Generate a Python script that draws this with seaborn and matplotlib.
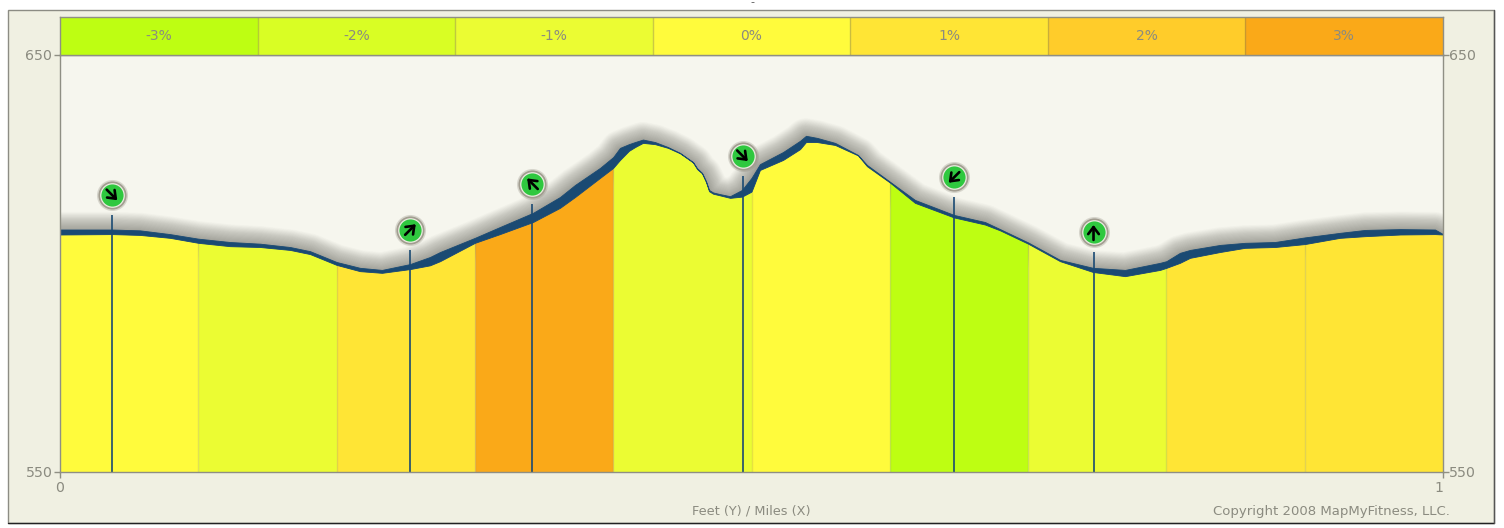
import numpy as np
import matplotlib
matplotlib.use('Agg')
import matplotlib.pyplot as plt
import seaborn as sns
from matplotlib.colors import ListedColormap
from matplotlib.patches import Rectangle
from matplotlib.transforms import offset_copy, ScaledTranslation

# DATA

miles = [0.0, 0.0376, 0.0578, 0.0795, 0.1, 0.1229, 0.1446, 0.1663, 0.1808, 0.2,
         0.2169, 0.2328, 0.2531, 0.2675, 0.2748, 0.3, 0.3181, 0.342, 0.3615, 0.3724,
         0.3905, 0.4, 0.4049, 0.4114, 0.4158, 0.4215, 0.4302, 0.4396, 0.4483, 0.4577,
         0.4607, 0.4642, 0.4671, 0.4693, 0.4722, 0.4772, 0.4845, 0.4931, 0.5, 0.5061,
         0.5228, 0.5351, 0.5394, 0.5474, 0.5604, 0.577, 0.5835, 0.6, 0.6182, 0.6464,
         0.6688, 0.6797, 0.7, 0.7231, 0.7469, 0.7701, 0.7954, 0.8, 0.8098, 0.8171,
         0.8388, 0.8568, 0.8785, 0.9, 0.9255, 0.9436, 0.9689, 0.9942, 1.0]

# upper edge of the route line
route_top = [608.1, 608.1, 607.9, 607.0, 605.9, 605.1, 604.7, 603.9, 602.9, 600.3,
             598.9, 598.4, 599.8, 601.5, 602.7, 606.1, 608.7, 612.1, 615.9, 618.8,
             622.9, 625.5, 627.7, 628.6, 629.1, 629.7, 629.1, 627.9, 626.5, 624.3,
             622.8, 621.7, 619.7, 617.6, 617.0, 616.6, 616.1, 617.6, 620.5, 623.8,
             626.7, 629.4, 630.6, 630.1, 628.9, 626.0, 623.6, 619.6, 615.2, 611.6,
             609.9, 608.2, 605.0, 600.8, 598.9, 598.4, 600.1, 600.5, 602.5, 603.2,
             604.4, 604.9, 605.1, 606.2, 607.3, 608.0, 608.2, 608.1, 607.0]

# top of the coloured area
elevation = [606.9, 607.0, 606.8, 606.1, 604.9, 604.1, 603.9, 603.2, 602.2, 599.6,
             598.1, 597.7, 598.6, 599.5, 600.5, 604.9, 607.0, 609.9, 613.3, 615.9,
             620.5, 622.9, 624.8, 627.0, 627.9, 628.9, 628.6, 627.7, 626.4, 624.2,
             622.6, 621.6, 619.5, 617.3, 616.7, 616.3, 615.7, 616.0, 617.2, 622.4,
             624.8, 627.4, 629.1, 629.1, 628.4, 625.9, 623.3, 619.4, 614.5, 611.0,
             609.3, 607.9, 604.7, 600.5, 597.9, 596.9, 598.4, 598.9, 600.1, 601.3,
             602.7, 603.7, 603.9, 604.6, 606.1, 606.5, 606.9, 607.0, 606.9]

segment_edges = [0.0, 0.1, 0.2, 0.3, 0.4, 0.5, 0.6, 0.7, 0.8, 0.9, 1.0]
segment_grades = ['0%', '-1%', '1%', '3%', '-1%', '0%', '-3%', '-1%', '1%', '1%']

grade_labels = ['-3%', '-2%', '-1%', '0%', '1%', '2%', '3%']
grade_colors = ['#BEFE12', '#D9FE24', '#EBFC33', '#FFFB3C', '#FFE535', '#FFCC2A', '#FAA918']

marker_miles = [0.0376, 0.2534, 0.3416, 0.4935, 0.6464, 0.7473]
marker_elev = [616.4, 608.1, 619.1, 625.8, 620.6, 607.4]
marker_angles = [-45, 45, 135, -45, -135, 90]

y_ticks = [550, 650]
x_ticks = [0, 1]

# COLOURS

TEXT = '#8b8b80'
AXIS = '#8f8f84'
NAVY = '#1a4a73'

W, H = 1504, 528

sns.set_theme(style='white')
plt.rcParams['font.family'] = ['DejaVu Sans']

fig = plt.figure(figsize=(W / 100, H / 100), dpi=100, facecolor='white')


def fig_box(left, top, right, bottom):
    return [left / W, 1 - bottom / H, (right - left) / W, (bottom - top) / H]


# outer panel
x0, y0, w0, h0 = fig_box(7.5, 9.5, 1494, 523)
fig.add_artist(Rectangle((x0, y0), w0, h0, transform=fig.transFigure, zorder=-1,
                         facecolor='#F0F0E2', edgecolor='#8c8c84', linewidth=1))
fig.add_artist(plt.Line2D([x0, x0 + w0], [y0, y0], color='#222222', linewidth=1))
fig.add_artist(plt.Line2D([x0 + w0, x0 + w0], [y0, y0 + h0], color='#555555', linewidth=1))
fig.text(752 / W, 1 - 2 / H, '-', color='#555555', fontsize=8, ha='center', va='center')

ax = fig.add_axes(fig_box(60, 55, 1443, 471.5), facecolor='#F6F6EE')
ax.set_xlim(0, 1)
ax.set_ylim(550, 650)

m = np.array(miles)
top = np.array(route_top)
elev = np.array(elevation)

# soft shadow above the route
for lw in np.linspace(29, 2, 36):
    sns.lineplot(x=m, y=top - 0.6, ax=ax, color='#4a4a42', linewidth=lw, alpha=0.015,
                 errorbar=None, zorder=1, legend=False, solid_joinstyle='round')

# coloured grade segments
color_of = dict(zip(grade_labels, grade_colors))
for i, grade in enumerate(segment_grades):
    mask = (m >= segment_edges[i]) & (m <= segment_edges[i + 1])
    ax.fill_between(m[mask], 550, elev[mask], color=color_of[grade], linewidth=0, zorder=2)
    if i > 0:
        ax.vlines(segment_edges[i], 550, elev[mask][0], color='#8a8a50', alpha=0.22,
                  linewidth=1, zorder=2.5)

# route line
ax.fill_between(m, elev, top, color=NAVY, linewidth=0.6, zorder=3)

# markers: stems, rings and arrows
stem_tops = [e - 4.8 for e in marker_elev]
ax.vlines(marker_miles, 550, stem_tops, color=NAVY, linewidth=1.2, zorder=4)

sns.scatterplot(x=marker_miles, y=marker_elev, ax=ax, s=500, color='#8f8b7e', alpha=0.3,
                linewidth=0, zorder=5, legend=False)
sns.scatterplot(x=marker_miles, y=marker_elev, ax=ax, s=410, color='#a29d90',
                linewidth=0, zorder=6, legend=False)
sns.scatterplot(x=marker_miles, y=marker_elev, ax=ax, s=315, color='#ECECE2',
                linewidth=0, zorder=7, legend=False)
sns.scatterplot(x=marker_miles, y=marker_elev, ax=ax, s=255, color='#2FC83F',
                linewidth=0, zorder=8, legend=False)

for mx, my, angle in zip(marker_miles, marker_elev, marker_angles):
    dx = 5.4 * np.cos(np.radians(angle))
    dy = 5.4 * np.sin(np.radians(angle))
    head = offset_copy(ax.transData, fig=fig, x=dx, y=dy, units='points')
    tail = offset_copy(ax.transData, fig=fig, x=-dx, y=-dy, units='points')
    ax.annotate('', xy=(mx, my), xycoords=head, xytext=(mx, my), textcoords=tail, zorder=9,
                arrowprops=dict(arrowstyle='->,head_length=0.42,head_width=0.32',
                                color='black', lw=1.9, shrinkA=0, shrinkB=0))

ax.set_xticks(x_ticks)
ax.set_yticks(y_ticks)
ax.set_xticklabels(['0', '1'])
ax.get_xticklabels()[1].set_ha('right')
ax.tick_params(axis='both', length=4, width=1, color=AXIS, labelcolor=TEXT, labelsize=10.2, pad=1.5)
ax.tick_params(axis='y', left=True, right=True, labelleft=True, labelright=True)
ax.tick_params(axis='x', bottom=True, pad=3)
ax.set_xlabel('')
ax.set_ylabel('')
for side in ax.spines.values():
    side.set_color(AXIS)
    side.set_linewidth(1)
    side.set_zorder(10)

# right hand labels sit closer to the axis
for tick in ax.yaxis.get_major_ticks():
    tick.label2.set_transform(tick.label2.get_transform() + ScaledTranslation(-1.5 / 100, 0, fig.dpi_scale_trans))

# grade legend strip
strip = fig.add_axes(fig_box(60, 17, 1443, 55))
sns.heatmap(np.arange(len(grade_labels)).reshape(1, -1), ax=strip,
            cmap=ListedColormap(grade_colors), cbar=False,
            annot=np.array(grade_labels).reshape(1, -1), fmt='',
            annot_kws={'color': TEXT, 'fontsize': 10},
            linewidths=0, xticklabels=False, yticklabels=False)
for edge in range(1, len(grade_labels)):
    strip.axvline(edge, color='#7f7f50', alpha=0.4, linewidth=1)
for side in strip.spines.values():
    side.set_visible(True)
    side.set_color(AXIS)
    side.set_linewidth(1)

fig.text(751 / W, 1 - 511 / H, 'Feet (Y) / Miles (X)', color=TEXT, fontsize=9.3,
         ha='center', va='center')
fig.text(1450 / W, 1 - 511 / H, 'Copyright 2008 MapMyFitness, LLC.', color=TEXT, fontsize=9.5,
         ha='right', va='center')

fig.savefig('out.png', dpi=100)
